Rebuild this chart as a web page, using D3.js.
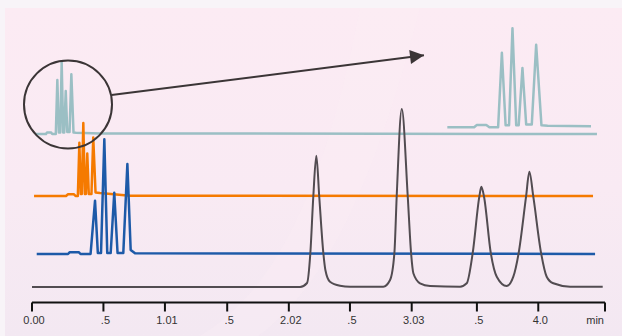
<!DOCTYPE html>
<html>
<head>
<meta charset="utf-8">
<script src="https://cdn.jsdelivr.net/npm/d3@7"></script>
<style>
  html, body { margin: 0; padding: 0; background: #fff; }
  svg { display: block; }
  .tick-label { font-family: 'Liberation Sans', Arial, sans-serif; font-size: 11px; fill: #333; }
</style>
</head>
<body>
<svg id="chart" width="622" height="336"></svg>
<script>
// time axis (min)
const tickValues = [0, 0.561, 1.044, 1.533, 2.017, 2.497, 2.982, 3.494, 3.976, 4.5];
const tickLabels = ['0.00', '.5', '1.01', '.5', '2.02', '.5', '3.03', '.5', '4.0', 'min'];

// traces: [time (min), signal]
const tealTrace = [
  [0.024, 0], [0.110, 0], [0.118, 0.8], [0.149, 0.8], [0.159, 0], [0.187, 0],
  [0.199, 27], [0.211, 0.75], [0.222, 0.75], [0.233, 35.9], [0.245, 0.75], [0.253, 0.75],
  [0.265, 21.5], [0.277, 1], [0.295, 1], [0.309, 29.9], [0.326, 0.7], [0.346, 0.6],
  [0.534, 0.3], [4.437, 0]
];
const orangeTrace = [
  [0.016, 0], [0.267, 0], [0.283, 0.85], [0.330, 0.85], [0.342, 0], [0.360, 0],
  [0.372, 26.65], [0.383, 1], [0.391, 1], [0.403, 36.5], [0.415, 1], [0.423, 1],
  [0.434, 21.25], [0.446, 1], [0.467, 1], [0.481, 29.25], [0.499, 1.75], [0.534, 1.5],
  [0.770, 0.15], [4.406, 0]
];
const blueTrace = [
  [0.037, 0], [0.283, 0], [0.295, 0.85], [0.369, 0.85], [0.381, 0], [0.460, 0],
  [0.495, 26.65], [0.517, 0.5], [0.542, 0.5], [0.568, 57.35], [0.591, 0.5], [0.618, 0.5],
  [0.646, 30.65], [0.672, 0.5], [0.717, 0.5], [0.749, 45], [0.775, 2], [0.809, 0.35],
  [4.422, 0]
];
const grayTrace = [
  [0, 0], [2.105, 0], [2.160, 2], [2.186, 17], [2.209, 45], [2.233, 65.65],
  [2.256, 45], [2.288, 17], [2.304, 8.5], [2.340, 2.65], [2.419, 0.65], [2.498, 0.15],
  [2.759, 0.15], [2.812, 3.5], [2.846, 17], [2.864, 45.15], [2.904, 89], [2.951, 45.15],
  [2.977, 17], [2.995, 6.85], [3.047, 1.85], [3.126, 0.5], [3.362, 0.15], [3.414, 1.85],
  [3.461, 17], [3.513, 45.15], [3.529, 50.15], [3.550, 45.15], [3.603, 17], [3.650, 5.15],
  [3.728, 0.5], [3.780, 5.15], [3.822, 17], [3.880, 45.15], [3.906, 57.65], [3.937, 45.15],
  [3.998, 17], [4.042, 5.15], [4.094, 1.85], [4.226, 0.15], [4.482, 0.15]
];

// zoomed window of the teal trace
const zoomWindow = [0.022, 0.484];

const svg = d3.select('#chart');
const W = 622, H = 336;
const defs = svg.append('defs');

// background
const grad = defs.append('linearGradient').attr('id', 'bg')
  .attr('x1', 0).attr('y1', 0).attr('x2', 0).attr('y2', 1);
grad.append('stop').attr('offset', '0%').attr('stop-color', '#fcebf3');
grad.append('stop').attr('offset', '55%').attr('stop-color', '#f9eaf3');
grad.append('stop').attr('offset', '100%').attr('stop-color', '#f3e8f2');

svg.append('rect').attr('x', 0).attr('y', 0).attr('width', W).attr('height', H).attr('fill', '#f8f4f8');
svg.append('rect').attr('x', 5).attr('y', 8).attr('width', W - 5).attr('height', H - 8).attr('fill', 'url(#bg)');
// faint light swoop
svg.append('path')
  .attr('d', 'M200,336 C260,300 320,220 360,8 L420,8 C370,200 320,290 258,336 Z')
  .attr('fill', '#fdf0f6').attr('opacity', 0.3);

// scales
const x = d3.scaleLinear().domain([0, 4.5]).range([32, 605]);
const yFor = base => d3.scaleLinear().domain([0, 100]).range([base, base - 200]);

const traces = [
  { data: tealTrace, color: '#9bbfc4', base: 134, width: 2.5 },
  { data: orangeTrace, color: '#f57a00', base: 196, width: 2.5 },
  { data: blueTrace, color: '#1d5aa8', base: 254, width: 2.5 },
  { data: grayTrace, color: '#524c51', base: 287, width: 2, curve: d3.curveMonotoneX }
];

traces.forEach(t => {
  const y = yFor(t.base);
  const line = d3.line()
    .x(d => x(d[0]))
    .y(d => y(d[1]))
    .curve(t.curve || d3.curveLinear);
  svg.append('path')
    .datum(t.data)
    .attr('d', line)
    .attr('fill', 'none')
    .attr('stroke', t.color)
    .attr('stroke-width', t.width)
    .attr('stroke-linejoin', 'round');
});

// inset: enlarged teal peaks
const xz = d3.scaleLinear().domain(zoomWindow).range([446.7, 590.7]);
const yz = d3.scaleLinear().domain([0, 100]).range([127.3, 127.3 - 276]);
defs.append('clipPath').attr('id', 'zclip')
  .append('rect').attr('x', 446).attr('y', 0).attr('width', 145).attr('height', 140);
svg.append('path')
  .datum(tealTrace)
  .attr('clip-path', 'url(#zclip)')
  .attr('d', d3.line().x(d => xz(d[0])).y(d => yz(d[1])))
  .attr('fill', 'none')
  .attr('stroke', '#9bbfc4')
  .attr('stroke-width', 2.5)
  .attr('stroke-linejoin', 'round');

// magnifier circle + arrow
svg.append('circle')
  .attr('cx', 68).attr('cy', 104.5).attr('r', 44)
  .attr('fill', 'none').attr('stroke', '#3b3536').attr('stroke-width', 2);
defs.append('marker')
  .attr('id', 'arrow')
  .attr('viewBox', '0 0 10 10')
  .attr('refX', 10).attr('refY', 5)
  .attr('markerWidth', 17).attr('markerHeight', 14)
  .attr('markerUnits', 'userSpaceOnUse')
  .attr('orient', 'auto')
  .append('path').attr('d', 'M0,0 L10,5 L0,10 z').attr('fill', '#3b3536');
svg.append('line')
  .attr('x1', 111.5).attr('y1', 95).attr('x2', 424).attr('y2', 55.3)
  .attr('stroke', '#3b3536').attr('stroke-width', 2)
  .attr('marker-end', 'url(#arrow)');

// time axis
const axisY = 302.5;
const axis = svg.append('g').attr('transform', `translate(0,${axisY})`);
axis.append('line')
  .attr('x1', x(0)).attr('x2', x(4.5)).attr('y1', 0).attr('y2', 0)
  .attr('stroke', '#111').attr('stroke-width', 2);
axis.selectAll('.tk').data(tickValues).enter().append('line')
  .attr('class', 'tk')
  .attr('x1', d => x(d)).attr('x2', d => x(d))
  .attr('y1', 0).attr('y2', 9)
  .attr('stroke', '#111').attr('stroke-width', 2);
axis.selectAll('.tick-label').data(tickValues).enter().append('text')
  .attr('class', 'tick-label')
  .attr('x', (d, i) => i === tickValues.length - 1 ? x(d) - 1 : x(d) + 2)
  .attr('y', 21)
  .attr('text-anchor', (d, i) => i === tickValues.length - 1 ? 'end' : 'middle')
  .text((d, i) => tickLabels[i]);
</script>
</body>
</html>
